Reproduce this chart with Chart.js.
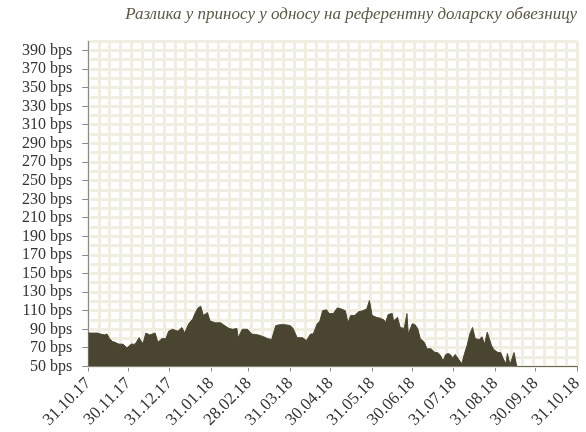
<!DOCTYPE html>
<html>
<head>
<meta charset="utf-8">
<script src="https://cdn.jsdelivr.net/npm/chart.js@4"></script>
<style>
    body { margin: 0; background: #fff; }
    #wrap { width: 586px; height: 432px; position: relative; }
</style>
</head>
<body>
<div id="wrap"><canvas id="myChart"></canvas></div>
<script>
const titleText = 'Разлика у приносу у односу на референтну доларску обвезницу';

// days counted from 31.10.2017
const tickDays = [0, 30, 61, 92, 120, 151, 181, 212, 242, 273, 304, 334, 365];
const tickLabels = ['31.10.17', '30.11.17', '31.12.17', '31.01.18', '28.02.18', '31.03.18', '30.04.18',
                    '31.05.18', '30.06.18', '31.07.18', '31.08.18', '30.09.18', '31.10.18'];
const yTicks = [50, 70, 90, 110, 130, 150, 170, 190, 210, 230, 250, 270, 290, 310, 330, 350, 370, 390];

const dayOffsets = [0, 3, 7, 9, 12, 14, 16, 18, 20, 23, 26, 29, 32, 35, 38, 40, 41, 43, 46, 50,
                    52, 55, 58, 60, 63, 67, 70, 72, 75, 78, 80, 82, 84, 86, 89, 91, 95, 99, 101, 105,
                    108, 111, 112, 115, 119, 122, 127, 131, 134, 137, 140, 143, 147, 151, 153, 156, 160, 163, 166, 168,
                    171, 173, 175, 178, 180, 183, 186, 189, 192, 194, 196, 199, 202, 205, 208, 210, 212, 215, 218, 221,
                    222, 224, 227, 228, 231, 233, 236, 238, 239, 242, 244, 246, 248, 251, 253, 256, 259, 261, 263, 265,
                    267, 269, 271, 272, 274, 277, 279, 281, 283, 285, 287, 289, 292, 294, 296, 298, 301, 303, 306, 308,
                    310, 312, 313, 315, 318, 320, 335, 350, 365];
const spreadBps = [86, 86, 86, 85, 84, 85, 80, 77, 76, 74, 74, 70, 74, 74, 81, 76, 75, 86, 84, 86,
                   76, 80, 80, 88, 90, 88, 92, 86, 96, 101, 108, 113, 115, 105, 108, 99, 97, 97, 95, 91,
                   90, 91, 81, 90, 90, 85, 84, 82, 80, 79, 94, 95, 95, 94, 91, 81, 81, 78, 85, 85,
                   96, 99, 110, 111, 107, 107, 113, 112, 110, 97, 105, 105, 109, 110, 112, 121, 105, 103, 102, 100,
                   97, 106, 107, 99, 103, 92, 91, 107, 85, 96, 95, 91, 80, 76, 69, 69, 65, 65, 62, 56,
                   63, 64, 62, 59, 63, 57, 53, 64, 73, 85, 92, 80, 79, 82, 74, 87, 73, 68, 65, 65,
                   58, 53, 64, 52, 65, 50, 50, 50, 50];

const gridColor = '#f0ede1';
const axisColor = '#8a8a8a';

const ctx = document.getElementById('myChart').getContext('2d');
const myChart = new Chart(ctx, {
    type: 'line',
    data: {
        datasets: [{
            data: dayOffsets.map((d, i) => ({ x: d, y: spreadBps[i] })),
            fill: 'start',
            backgroundColor: '#4a4530',
            borderColor: '#4a4530',
            borderWidth: 1,
            pointRadius: 0,
            tension: 0
        }]
    },
    options: {
        responsive: true,
        maintainAspectRatio: false,
        animation: false,
        layout: { padding: { left: 12, right: 9, bottom: 0, top: 0 } },
        plugins: {
            legend: { display: false },
            tooltip: { enabled: false },
            title: {
                display: true,
                text: titleText,
                align: 'end',
                color: '#5a5846',
                font: { family: 'Liberation Serif', size: 17, style: 'italic', weight: 'normal' },
                padding: { top: 4, bottom: 17 }
            }
        },
        scales: {
            x: {
                type: 'linear',
                min: 0,
                max: 365,
                afterBuildTicks: axis => { axis.ticks = tickDays.map(v => ({ value: v })); },
                // let the last rotated label hang past the plot edge
                afterFit: axis => { axis.paddingRight = 0; },
                ticks: {
                    autoSkip: false,
                    minRotation: 45,
                    maxRotation: 45,
                    padding: 2,
                    color: '#333',
                    font: { family: 'Liberation Serif', size: 17 },
                    callback: (v, i) => tickLabels[i]
                },
                grid: { drawOnChartArea: false, color: axisColor, tickLength: 5 },
                border: { color: axisColor }
            },
            xGrid: {
                type: 'linear',
                position: 'top',
                min: 0,
                max: 365,
                afterBuildTicks: axis => {
                    const t = [];
                    for (let i = 0; i <= 45; i++) t.push({ value: i * 365 / 45 });
                    axis.ticks = t;
                },
                ticks: { display: false },
                grid: { color: gridColor, lineWidth: 3, drawTicks: false },
                border: { display: false }
            },
            y: {
                type: 'linear',
                min: 50,
                max: 400,
                afterBuildTicks: axis => { axis.ticks = yTicks.map(v => ({ value: v })); },
                ticks: {
                    autoSkip: false,
                    padding: 10,
                    color: '#333',
                    font: { family: 'Liberation Serif', size: 16 },
                    callback: v => v + ' bps'
                },
                grid: { drawOnChartArea: false, color: axisColor, tickLength: 6 },
                border: { color: axisColor }
            },
            yGrid: {
                type: 'linear',
                position: 'right',
                min: 50,
                max: 400,
                afterBuildTicks: axis => {
                    const t = [];
                    for (let v = 50; v <= 400; v += 10) t.push({ value: v });
                    axis.ticks = t;
                },
                ticks: { display: false },
                grid: { color: gridColor, lineWidth: 3, drawTicks: false },
                border: { display: false }
            }
        }
    }
});
</script>
</body>
</html>
